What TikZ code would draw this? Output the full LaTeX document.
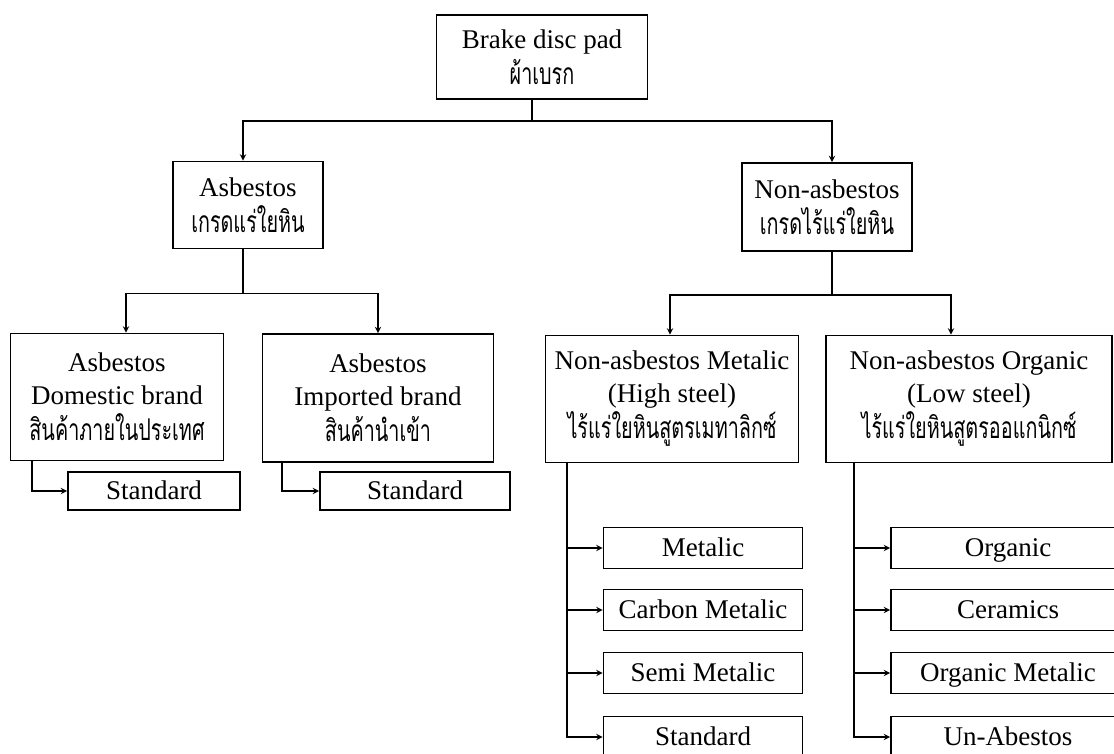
\documentclass[tikz,border=0pt]{standalone}
\usepackage{fontspec}
\setmainfont{Liberation Serif}
\newfontfamily\thaifont[Script=Thai,FakeStretch=0.66]{Loma}
\newcommand\thtxt[1]{{\thaifont\fontsize{30}{33}\selectfont #1}}
\tikzset{
  box/.style={draw,line width=1.8pt,align=center,inner sep=0pt,font=\fontsize{27}{33}\selectfont},
  leaf/.style={box,text height=18pt,text depth=1pt},
  conn/.style={line width=1.8pt}
}
\begin{document}
\begin{tikzpicture}[x=1pt,y=-1pt,>=stealth]
\useasboundingbox (0,0) rectangle (1114,753);
% level 1 and 2
\node [box,minimum width=211pt,minimum height=84pt] (pad) at (542,57) {Brake disc pad\\[3pt]\thtxt{ผ้าเบรก}};
\node [box,minimum width=150pt,minimum height=87pt] (asb) at (248,205) {Asbestos\\[3pt]\thtxt{เกรดแร่ใยหิน}};
\node [box,minimum width=170pt,minimum height=88pt] (non) at (827,207) {Non-asbestos\\[3pt]\thtxt{เกรดไร้แร่ใยหิน}};
% level 3
\node [box,minimum width=213pt,minimum height=127pt] (dom) at (117,397) {Asbestos\\Domestic brand\\[3pt]\thtxt{สินค้าภายในประเทศ}};
\node [box,minimum width=231pt,minimum height=128pt] (imp) at (378,398) {Asbestos\\Imported brand\\[3pt]\thtxt{สินค้านำเข้า}};
\node [box,minimum width=253pt,minimum height=127pt] (met) at (672,399) {Non-asbestos Metalic\\(High steel)\\[3pt]\thtxt{ไร้แร่ใยหินสูตรเมทาลิกซ์}};
\node [box,minimum width=286pt,minimum height=127pt] (org) at (969,399) {Non-asbestos Organic\\(Low steel)\\[3pt]\thtxt{ไร้แร่ใยหินสูตรออแกนิกซ์}};
% level 4
\node [leaf,minimum width=172pt,minimum height=38pt] (domstd) at (154,491) {Standard};
\node [leaf,minimum width=190pt,minimum height=38pt] (impstd) at (415,491) {Standard};
\node [leaf,minimum width=199pt,minimum height=41pt] (m1) at (703,548) {Metalic};
\node [leaf,minimum width=199pt,minimum height=41pt] (m2) at (703,610) {Carbon Metalic};
\node [leaf,minimum width=199pt,minimum height=41pt] (m3) at (703,673) {Semi Metalic};
\node [leaf,minimum width=199pt,minimum height=41pt] (m4) at (703,737) {Standard};
\node [leaf,minimum width=234pt,minimum height=41pt] (o1) at (1008,548) {Organic};
\node [leaf,minimum width=234pt,minimum height=41pt] (o2) at (1008,610) {Ceramics};
\node [leaf,minimum width=234pt,minimum height=41pt] (o3) at (1008,673) {Organic Metalic};
\node [leaf,minimum width=234pt,minimum height=41pt] (o4) at (1008,737) {Un-Abestos};

% connectors
\draw[conn] ([xshift=-10pt]pad.south) -- ++(0,21) coordinate (j1);
\draw[conn,->] (j1) -| ([xshift=-5pt]asb.north);
\draw[conn,->] (j1) -| ([xshift=5pt]non.north);
\draw[conn] ([xshift=-5pt]asb.south) -- ++(0,44) coordinate (j2);
\draw[conn,->] (j2) -| ([xshift=9pt]dom.north);
\draw[conn,->] (j2) -| (imp.north);
\draw[conn] ([xshift=5pt]non.south) -- ++(0,43) coordinate (j3);
\draw[conn,->] (j3) -| ([xshift=-2pt]met.north);
\draw[conn,->] (j3) -| ([xshift=-18pt]org.north);
\draw[conn,->] ([xshift=22pt]dom.south west) |- (domstd.west);
\draw[conn,->] ([xshift=20pt]imp.south west) |- (impstd.west);
\foreach \n in {m1,m2,m3,m4}
  \draw[conn,->] ([xshift=22pt]met.south west) |- (\n.west);
\foreach \n in {o1,o2,o3,o4}
  \draw[conn,->] ([xshift=29pt]org.south west) |- (\n.west);
\end{tikzpicture}
\end{document}
